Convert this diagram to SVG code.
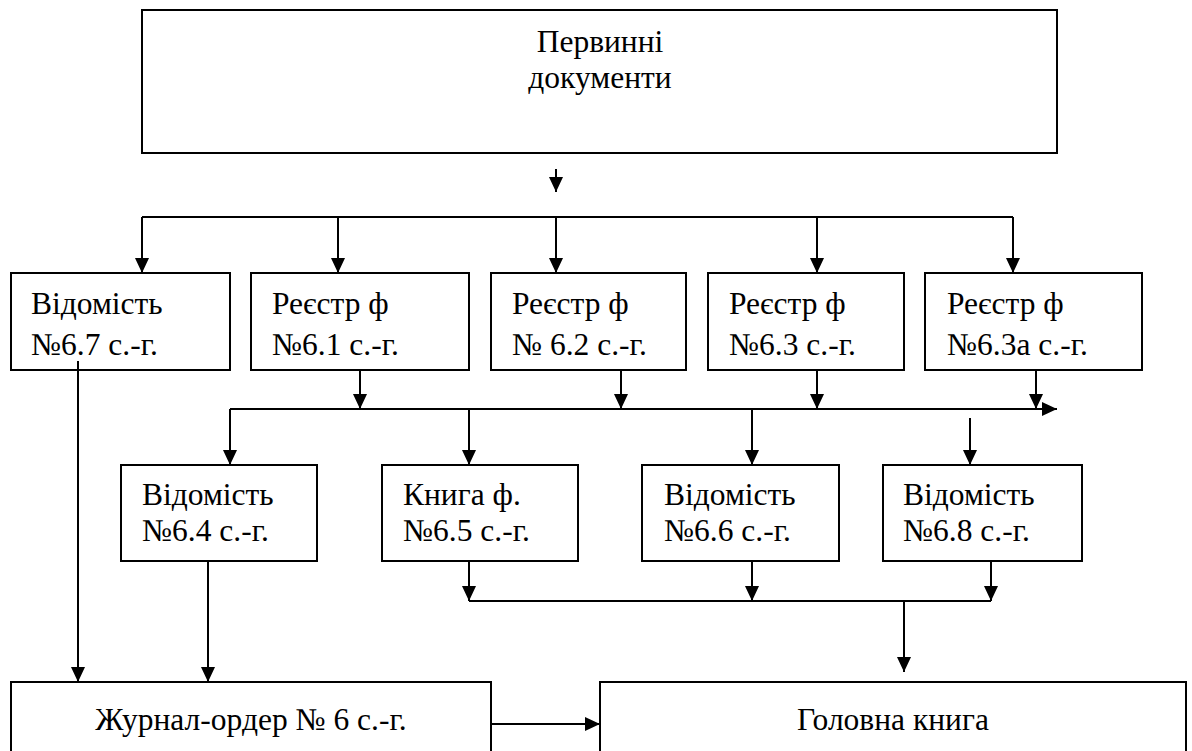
<svg xmlns="http://www.w3.org/2000/svg" width="1192" height="751" viewBox="0 0 1192 751">
  <defs>
    <marker id="arrow" viewBox="0 0 15 14" refX="15" refY="7" markerWidth="15" markerHeight="14" markerUnits="userSpaceOnUse" orient="auto">
      <path d="M0,0 L15,7 L0,14 z" fill="#000"/>
    </marker>
    <style>
      .box { fill: #fff; stroke: #000; stroke-width: 2; }
      .lbl { font-family: "Times New Roman", "Liberation Serif", serif; font-size: 31.5px; fill: #000; }
      .mid { text-anchor: middle; }
      .wire { fill: none; stroke: #000; stroke-width: 2; }
      .arr { marker-end: url(#arrow); }
    </style>
  </defs>
  <rect width="1192" height="751" fill="#fff"/>

  <!-- source documents -->
  <g id="node-pervinni">
    <rect class="box" x="142" y="10" width="915" height="143"/>
    <text class="lbl mid" x="600" y="52">Первинні</text>
    <text class="lbl mid" x="600" y="88">документи</text>
  </g>

  <!-- first tier registers -->
  <g id="node-vid67">
    <rect class="box" x="11" y="273" width="219" height="97"/>
    <text class="lbl" x="31" y="314">Відомість</text>
    <text class="lbl" x="31" y="355">№6.7 с.-г.</text>
  </g>
  <g id="node-reg61">
    <rect class="box" x="251" y="273" width="218" height="97"/>
    <text class="lbl" x="272" y="314">Реєстр ф</text>
    <text class="lbl" x="272" y="355">№6.1 с.-г.</text>
  </g>
  <g id="node-reg62">
    <rect class="box" x="491" y="273" width="195" height="97"/>
    <text class="lbl" x="512" y="314">Реєстр ф</text>
    <text class="lbl" x="512" y="355">№ 6.2 с.-г.</text>
  </g>
  <g id="node-reg63">
    <rect class="box" x="708" y="273" width="196" height="97"/>
    <text class="lbl" x="729" y="314">Реєстр ф</text>
    <text class="lbl" x="729" y="355">№6.3 с.-г.</text>
  </g>
  <g id="node-reg63a">
    <rect class="box" x="925" y="273" width="217" height="97"/>
    <text class="lbl" x="947" y="314">Реєстр ф</text>
    <text class="lbl" x="947" y="355">№6.3а с.-г.</text>
  </g>

  <!-- second tier -->
  <g id="node-vid64">
    <rect class="box" x="121" y="465" width="196" height="96"/>
    <text class="lbl" x="142" y="505">Відомість</text>
    <text class="lbl" x="142" y="541">№6.4 с.-г.</text>
  </g>
  <g id="node-kn65">
    <rect class="box" x="382" y="465" width="196" height="96"/>
    <text class="lbl" x="403" y="505">Книга ф.</text>
    <text class="lbl" x="403" y="541">№6.5 с.-г.</text>
  </g>
  <g id="node-vid66">
    <rect class="box" x="642" y="465" width="197" height="96"/>
    <text class="lbl" x="664" y="505">Відомість</text>
    <text class="lbl" x="664" y="541">№6.6 с.-г.</text>
  </g>
  <g id="node-vid68">
    <rect class="box" x="883" y="465" width="199" height="96"/>
    <text class="lbl" x="903" y="505">Відомість</text>
    <text class="lbl" x="903" y="541">№6.8 с.-г.</text>
  </g>

  <!-- ledgers -->
  <g id="node-zhurnal">
    <rect class="box" x="11" y="682" width="480" height="90"/>
    <text class="lbl mid" x="251" y="730">Журнал-ордер № 6 с.-г.</text>
  </g>
  <g id="node-holovna">
    <rect class="box" x="600" y="682" width="586" height="90"/>
    <text class="lbl mid" x="893" y="730">Головна книга</text>
  </g>

  <!-- connectors -->
  <g id="connectors">
    <path class="wire arr" d="M556,169 V192"/>
    <path class="wire" d="M142,217 H1013"/>
    <path class="wire arr" d="M142,217 V273"/>
    <path class="wire arr" d="M338,217 V273"/>
    <path class="wire arr" d="M556,217 V273"/>
    <path class="wire arr" d="M817,217 V273"/>
    <path class="wire arr" d="M1013,217 V273"/>

    <path class="wire arr" d="M360,370 V409"/>
    <path class="wire arr" d="M621,370 V409"/>
    <path class="wire arr" d="M817,370 V409"/>
    <path class="wire arr" d="M1036,370 V409"/>
    <path class="wire arr" d="M230,409 H1057"/>

    <path class="wire arr" d="M230,409 V465"/>
    <path class="wire arr" d="M469,409 V465"/>
    <path class="wire arr" d="M752,409 V465"/>
    <path class="wire arr" d="M970,418 V465"/>

    <path class="wire arr" d="M469,561 V601"/>
    <path class="wire arr" d="M752,561 V601"/>
    <path class="wire arr" d="M991,561 V601"/>
    <path class="wire" d="M469,601 H991"/>
    <path class="wire arr" d="M904,601 V672"/>

    <path class="wire arr" d="M78,361 V682"/>
    <path class="wire arr" d="M208,561 V682"/>
    <path class="wire arr" d="M491,724 H600"/>
  </g>
</svg>
